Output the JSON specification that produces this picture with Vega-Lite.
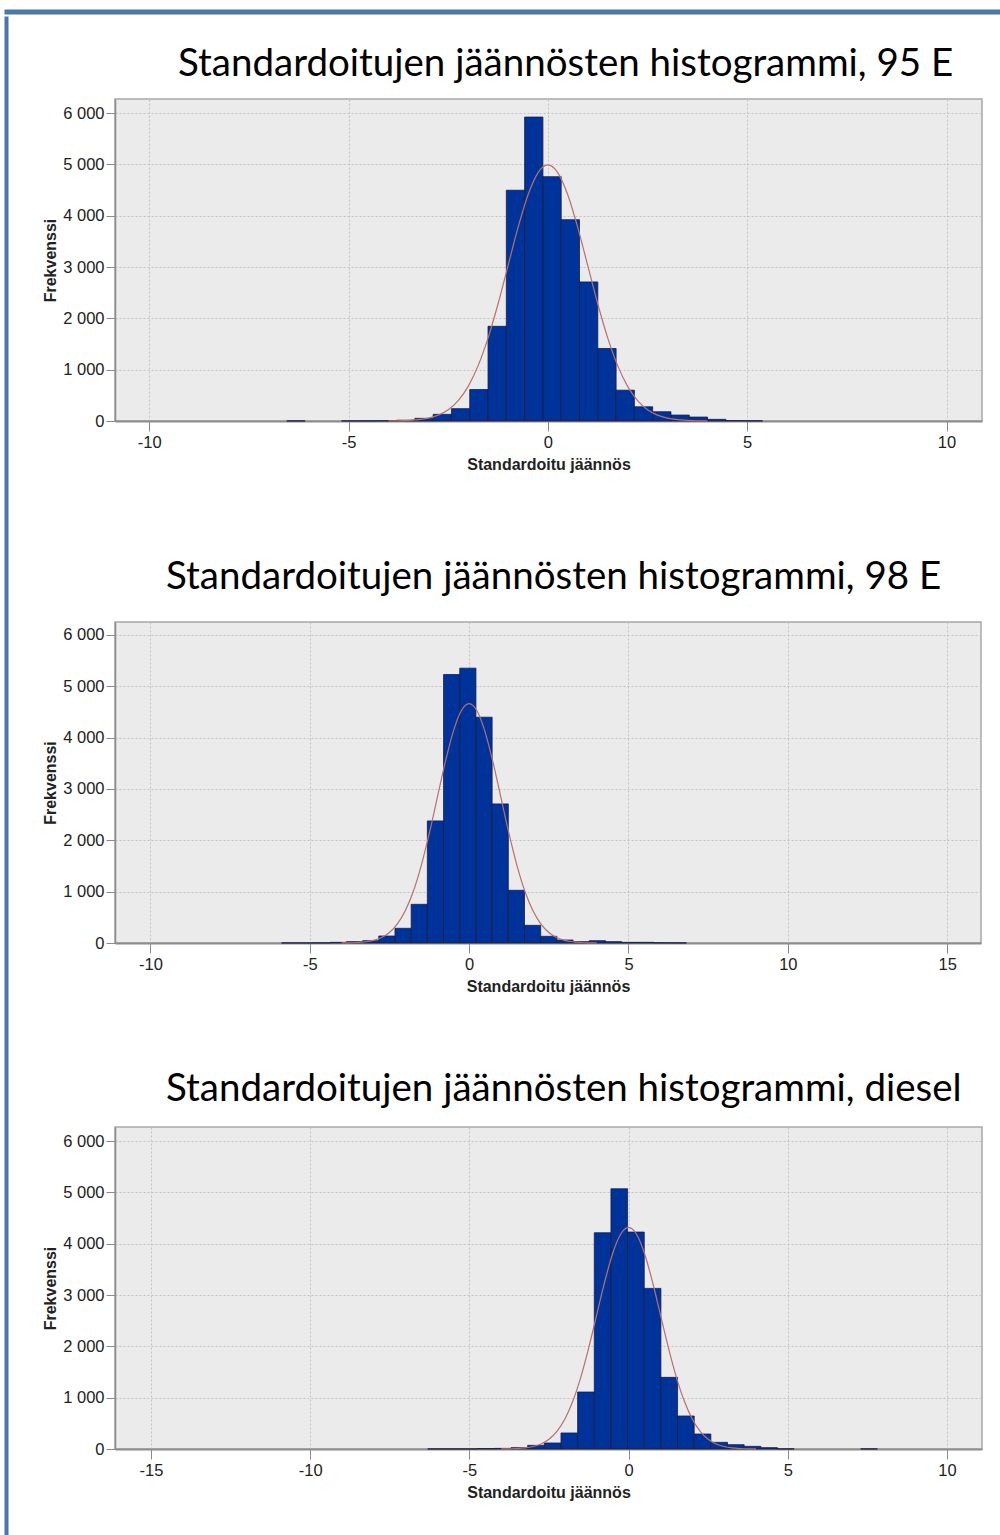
{
  "$schema": "https://vega.github.io/schema/vega-lite/v6.json",
  "padding": {"left": 3, "top": 8, "right": 0, "bottom": 0},
  "background": "white",
  "datasets": {
    "bars95": [
      {"lo": -6.551, "hi": -6.092, "n": 2},
      {"lo": -5.174, "hi": -4.715, "n": 2},
      {"lo": -4.715, "hi": -4.256, "n": 3},
      {"lo": -4.256, "hi": -3.797, "n": 5},
      {"lo": -3.797, "hi": -3.338, "n": 15},
      {"lo": -3.338, "hi": -2.879, "n": 52},
      {"lo": -2.879, "hi": -2.42, "n": 130},
      {"lo": -2.42, "hi": -1.961, "n": 240},
      {"lo": -1.961, "hi": -1.502, "n": 613},
      {"lo": -1.502, "hi": -1.043, "n": 1845},
      {"lo": -1.043, "hi": -0.584, "n": 4497},
      {"lo": -0.584, "hi": -0.125, "n": 5923},
      {"lo": -0.125, "hi": 0.334, "n": 4761},
      {"lo": 0.334, "hi": 0.793, "n": 3923},
      {"lo": 0.793, "hi": 1.252, "n": 2710},
      {"lo": 1.252, "hi": 1.711, "n": 1413},
      {"lo": 1.711, "hi": 2.17, "n": 600},
      {"lo": 2.17, "hi": 2.629, "n": 277},
      {"lo": 2.629, "hi": 3.088, "n": 180},
      {"lo": 3.088, "hi": 3.547, "n": 116},
      {"lo": 3.547, "hi": 4.006, "n": 77},
      {"lo": 4.006, "hi": 4.465, "n": 32},
      {"lo": 4.465, "hi": 4.924, "n": 8},
      {"lo": 4.924, "hi": 5.383, "n": 5}
    ],
    "curve95": [
      {"z": -4, "f": 2}, {"z": -3.75, "f": 4}, {"z": -3.5, "f": 11}, {"z": -3.25, "f": 25},
      {"z": -3, "f": 55}, {"z": -2.75, "f": 114}, {"z": -2.5, "f": 219}, {"z": -2.25, "f": 397},
      {"z": -2, "f": 675}, {"z": -1.75, "f": 1079}, {"z": -1.5, "f": 1620}, {"z": -1.25, "f": 2285},
      {"z": -1, "f": 3027}, {"z": -0.75, "f": 3767}, {"z": -0.5, "f": 4404}, {"z": -0.25, "f": 4836},
      {"z": 0, "f": 4990}, {"z": 0.25, "f": 4836}, {"z": 0.5, "f": 4404}, {"z": 0.75, "f": 3767},
      {"z": 1, "f": 3027}, {"z": 1.25, "f": 2285}, {"z": 1.5, "f": 1620}, {"z": 1.75, "f": 1079},
      {"z": 2, "f": 675}, {"z": 2.25, "f": 397}, {"z": 2.5, "f": 219}, {"z": 2.75, "f": 114},
      {"z": 3, "f": 55}, {"z": 3.25, "f": 25}, {"z": 3.5, "f": 11}, {"z": 3.75, "f": 4}, {"z": 4, "f": 2}
    ],
    "bars98": [
      {"lo": -5.882, "hi": -5.374, "n": 2},
      {"lo": -5.374, "hi": -4.866, "n": 2},
      {"lo": -4.866, "hi": -4.358, "n": 3},
      {"lo": -4.358, "hi": -3.85, "n": 13},
      {"lo": -3.85, "hi": -3.342, "n": 26},
      {"lo": -3.342, "hi": -2.834, "n": 45},
      {"lo": -2.834, "hi": -2.326, "n": 136},
      {"lo": -2.326, "hi": -1.818, "n": 286},
      {"lo": -1.818, "hi": -1.31, "n": 753},
      {"lo": -1.31, "hi": -0.802, "n": 2377},
      {"lo": -0.802, "hi": -0.294, "n": 5227},
      {"lo": -0.294, "hi": 0.214, "n": 5351},
      {"lo": 0.214, "hi": 0.722, "n": 4396},
      {"lo": 0.722, "hi": 1.23, "n": 2708},
      {"lo": 1.23, "hi": 1.738, "n": 1026},
      {"lo": 1.738, "hi": 2.246, "n": 344},
      {"lo": 2.246, "hi": 2.754, "n": 130},
      {"lo": 2.754, "hi": 3.262, "n": 58},
      {"lo": 3.262, "hi": 3.77, "n": 26},
      {"lo": 3.77, "hi": 4.278, "n": 45},
      {"lo": 4.278, "hi": 4.786, "n": 26},
      {"lo": 4.786, "hi": 5.294, "n": 13},
      {"lo": 5.294, "hi": 5.802, "n": 13},
      {"lo": 5.802, "hi": 6.31, "n": 5},
      {"lo": 6.31, "hi": 6.818, "n": 3}
    ],
    "curve98": [
      {"z": -4, "f": 2}, {"z": -3.75, "f": 4}, {"z": -3.5, "f": 10}, {"z": -3.25, "f": 24},
      {"z": -3, "f": 52}, {"z": -2.75, "f": 106}, {"z": -2.5, "f": 205}, {"z": -2.25, "f": 371},
      {"z": -2, "f": 631}, {"z": -1.75, "f": 1008}, {"z": -1.5, "f": 1513}, {"z": -1.25, "f": 2133},
      {"z": -1, "f": 2826}, {"z": -0.75, "f": 3518}, {"z": -0.5, "f": 4112}, {"z": -0.25, "f": 4517},
      {"z": 0, "f": 4660}, {"z": 0.25, "f": 4517}, {"z": 0.5, "f": 4112}, {"z": 0.75, "f": 3518},
      {"z": 1, "f": 2826}, {"z": 1.25, "f": 2133}, {"z": 1.5, "f": 1513}, {"z": 1.75, "f": 1008},
      {"z": 2, "f": 631}, {"z": 2.25, "f": 371}, {"z": 2.5, "f": 205}, {"z": 2.75, "f": 106},
      {"z": 3, "f": 52}, {"z": 3.25, "f": 24}, {"z": 3.5, "f": 10}, {"z": 3.75, "f": 4}, {"z": 4, "f": 2}
    ],
    "barsD": [
      {"lo": -6.307, "hi": -5.784, "n": 2},
      {"lo": -5.784, "hi": -5.261, "n": 2},
      {"lo": -5.261, "hi": -4.738, "n": 2},
      {"lo": -4.738, "hi": -4.215, "n": 8},
      {"lo": -4.215, "hi": -3.692, "n": 12},
      {"lo": -3.692, "hi": -3.169, "n": 26},
      {"lo": -3.169, "hi": -2.646, "n": 71},
      {"lo": -2.646, "hi": -2.123, "n": 117},
      {"lo": -2.123, "hi": -1.6, "n": 312},
      {"lo": -1.6, "hi": -1.077, "n": 1110},
      {"lo": -1.077, "hi": -0.554, "n": 4214},
      {"lo": -0.554, "hi": -0.031, "n": 5071},
      {"lo": -0.031, "hi": 0.492, "n": 4227},
      {"lo": 0.492, "hi": 1.015, "n": 3130},
      {"lo": 1.015, "hi": 1.538, "n": 1396},
      {"lo": 1.538, "hi": 2.061, "n": 643},
      {"lo": 2.061, "hi": 2.584, "n": 292},
      {"lo": 2.584, "hi": 3.107, "n": 130},
      {"lo": 3.107, "hi": 3.63, "n": 84},
      {"lo": 3.63, "hi": 4.153, "n": 52},
      {"lo": 4.153, "hi": 4.676, "n": 26},
      {"lo": 4.676, "hi": 5.199, "n": 3},
      {"lo": 7.291, "hi": 7.814, "n": 2}
    ],
    "curveD": [
      {"z": -4, "f": 1}, {"z": -3.75, "f": 4}, {"z": -3.5, "f": 9}, {"z": -3.25, "f": 22},
      {"z": -3, "f": 48}, {"z": -2.75, "f": 98}, {"z": -2.5, "f": 190}, {"z": -2.25, "f": 344},
      {"z": -2, "f": 584}, {"z": -1.75, "f": 934}, {"z": -1.5, "f": 1402}, {"z": -1.25, "f": 1977},
      {"z": -1, "f": 2619}, {"z": -0.75, "f": 3259}, {"z": -0.5, "f": 3811}, {"z": -0.25, "f": 4185},
      {"z": 0, "f": 4318}, {"z": 0.25, "f": 4185}, {"z": 0.5, "f": 3811}, {"z": 0.75, "f": 3259},
      {"z": 1, "f": 2619}, {"z": 1.25, "f": 1977}, {"z": 1.5, "f": 1402}, {"z": 1.75, "f": 934},
      {"z": 2, "f": 584}, {"z": 2.25, "f": 344}, {"z": 2.5, "f": 190}, {"z": 2.75, "f": 98},
      {"z": 3, "f": 48}, {"z": 3.25, "f": 22}, {"z": 3.5, "f": 9}, {"z": 3.75, "f": 4}, {"z": 4, "f": 1}
    ]
  },
  "config": {
    "view": {"fill": "#ebebeb", "stroke": "#a8a8a8", "strokeWidth": 1.5},
    "axis": {
      "labelFont": "Liberation Sans", "labelFontSize": 16.5, "labelColor": "#222222",
      "titleFont": "Liberation Sans", "titleFontSize": 16, "titleFontWeight": "bold", "titleColor": "#222222",
      "tickColor": "#8a8a8a", "tickSize": 10, "domainColor": "#8c8c8c",
      "grid": true, "gridColor": "#c2c2c2", "gridDash": [2, 2], "gridWidth": 1
    },
    "axisX": {"labelPadding": 3, "titlePadding": 6, "domainWidth": 2, "labelExpr": "datum.value < 0 ? '-' + abs(datum.value) : '' + datum.value"},
    "axisY": {"labelPadding": 2, "tickSize": 9, "titlePadding": 7, "minExtent": 50, "maxExtent": 50, "domainWidth": 1.5},
    "title": {"font": "Lato", "fontSize": 38.5, "fontWeight": "normal", "color": "#000000", "anchor": "start", "frame": "group", "baseline": "alphabetic"}
  },
  "spacing": 0,
  "vconcat": [
    {"width": 997, "height": 5, "view": {"fill": "#4a78a9", "stroke": "transparent"}, "data": {"values": []}, "mark": "point"},
    {
      "spacing": 32,
      "hconcat": [
        {"width": 4, "height": 1522, "view": {"fill": "#4a78a9", "stroke": "transparent"}, "data": {"values": []}, "mark": "point"},
        {
          "spacing": 25,
          "vconcat": [
            {"width": 1, "height": 1, "view": {"fill": "transparent", "stroke": "transparent"}, "data": {"values": []}, "mark": "point"},
            {
              "spacing": 82,
              "vconcat": [
                {
                  "width": 867, "height": 322,
                  "title": {"text": "Standardoitujen jäännösten histogrammi, 95 E", "offset": 15, "dx": 63},
                  "layer": [
                    {
                      "data": {"name": "bars95"},
                      "mark": {"type": "bar", "fill": "#003399", "stroke": "#1a1a40", "strokeWidth": 0.8},
                      "encoding": {
                        "x": {"field": "lo", "type": "quantitative", "title": "Standardoitu jäännös", "scale": {"domain": [-10.86, 10.89], "nice": false, "zero": false}, "axis": {"values": [-10, -5, 0, 5, 10]}},
                        "x2": {"field": "hi"},
                        "y": {"field": "n", "type": "quantitative", "title": "Frekvenssi", "scale": {"domain": [0, 6275], "nice": false}, "axis": {"values": [0, 1000, 2000, 3000, 4000, 5000, 6000], "labelExpr": "replace(format(datum.value, ','), ',', ' ')"}},
                        "y2": {"datum": 0}
                      }
                    },
                    {
                      "data": {"name": "curve95"},
                      "mark": {"type": "line", "interpolate": "monotone", "color": "#b5716f", "strokeWidth": 1.2},
                      "encoding": {
                        "x": {"field": "z", "type": "quantitative", "title": "Standardoitu jäännös"},
                        "y": {"field": "f", "type": "quantitative", "title": "Frekvenssi"}
                      }
                    }
                  ]
                },
                {
                  "spacing": 72,
                  "vconcat": [
                    {
                      "width": 866, "height": 321,
                      "title": {"text": "Standardoitujen jäännösten histogrammi, 98 E", "offset": 25, "dx": 51},
                      "layer": [
                        {
                          "data": {"name": "bars98"},
                          "mark": {"type": "bar", "fill": "#003399", "stroke": "#1a1a40", "strokeWidth": 0.8},
                          "encoding": {
                            "x": {"field": "lo", "type": "quantitative", "title": "Standardoitu jäännös", "scale": {"domain": [-11.11, 16.06], "nice": false, "zero": false}, "axis": {"values": [-10, -5, 0, 5, 10, 15]}},
                            "x2": {"field": "hi"},
                            "y": {"field": "n", "type": "quantitative", "title": "Frekvenssi", "scale": {"domain": [0, 6250], "nice": false}, "axis": {"values": [0, 1000, 2000, 3000, 4000, 5000, 6000], "labelExpr": "replace(format(datum.value, ','), ',', ' ')"}},
                            "y2": {"datum": 0}
                          }
                        },
                        {
                          "data": {"name": "curve98"},
                          "mark": {"type": "line", "interpolate": "monotone", "color": "#b5716f", "strokeWidth": 1.2},
                          "encoding": {
                            "x": {"field": "z", "type": "quantitative", "title": "Standardoitu jäännös"},
                            "y": {"field": "f", "type": "quantitative", "title": "Frekvenssi"}
                          }
                        }
                      ]
                    },
                    {
                      "width": 867, "height": 322,
                      "title": {"text": "Standardoitujen jäännösten histogrammi, diesel", "offset": 18, "dx": 51},
                      "layer": [
                        {
                          "data": {"name": "barsD"},
                          "mark": {"type": "bar", "fill": "#003399", "stroke": "#1a1a40", "strokeWidth": 0.8},
                          "encoding": {
                            "x": {"field": "lo", "type": "quantitative", "title": "Standardoitu jäännös", "scale": {"domain": [-16.13, 11.1], "nice": false, "zero": false}, "axis": {"values": [-15, -10, -5, 0, 5, 10]}},
                            "x2": {"field": "hi"},
                            "y": {"field": "n", "type": "quantitative", "title": "Frekvenssi", "scale": {"domain": [0, 6275], "nice": false}, "axis": {"values": [0, 1000, 2000, 3000, 4000, 5000, 6000], "labelExpr": "replace(format(datum.value, ','), ',', ' ')"}},
                            "y2": {"datum": 0}
                          }
                        },
                        {
                          "data": {"name": "curveD"},
                          "mark": {"type": "line", "interpolate": "monotone", "color": "#b5716f", "strokeWidth": 1.2},
                          "encoding": {
                            "x": {"field": "z", "type": "quantitative", "title": "Standardoitu jäännös"},
                            "y": {"field": "f", "type": "quantitative", "title": "Frekvenssi"}
                          }
                        }
                      ]
                    }
                  ]
                }
              ]
            }
          ]
        }
      ]
    }
  ]
}
